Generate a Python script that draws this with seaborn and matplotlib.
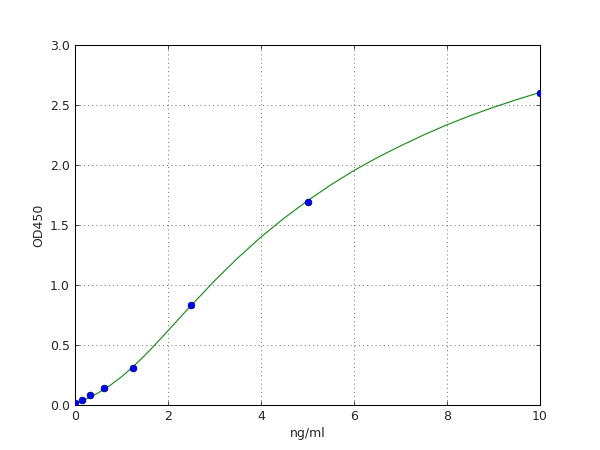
"""ELISA standard curve: OD450 against concentration (ng/ml)."""

import matplotlib

matplotlib.use("Agg")

import matplotlib.pyplot as plt
import pandas as pd
import seaborn as sns

# standards
conc = [0.0, 0.156, 0.3125, 0.625, 1.25, 2.5, 5.0, 10.0]
od450 = [0.02, 0.042, 0.086, 0.145, 0.305, 0.83, 1.69, 2.596]

# fitted curve
curve_x = [0.0, 0.25, 0.5, 0.75, 1.0, 1.25, 1.5, 1.75, 2.0, 2.25, 2.5, 3.0,
           3.5, 4.0, 4.5, 5.0, 5.5, 6.0, 6.5, 7.0, 7.5, 8.0, 8.5, 9.0, 9.5, 10.0]
curve_y = [0.015, 0.052, 0.101, 0.162, 0.235, 0.319, 0.413, 0.514, 0.619, 0.725, 0.83,
           1.035, 1.225, 1.40, 1.558, 1.702, 1.834, 1.954, 2.062, 2.159, 2.251, 2.335,
           2.411, 2.481, 2.545, 2.605]

x_ticks = [0, 2, 4, 6, 8, 10]
y_ticks = [0.0, 0.5, 1.0, 1.5, 2.0, 2.5, 3.0]

sns.set_style(
    "white",
    {
        "axes.edgecolor": "black",
        "xtick.direction": "in",
        "ytick.direction": "in",
        "xtick.top": True,
        "ytick.right": True,
        "xtick.bottom": True,
        "ytick.left": True,
    },
)
plt.rcParams["font.family"] = ["DejaVu Sans"]
plt.rcParams["font.size"] = 12

points = pd.DataFrame({"conc": conc, "od": od450})
fit = pd.DataFrame({"conc": curve_x, "od": curve_y})

fig = plt.figure(figsize=(8, 6), dpi=75)
ax = fig.add_axes([0.125, 0.1, 0.775, 0.8])

sns.lineplot(data=fit, x="conc", y="od", ax=ax, color="#1f8f1f", linewidth=1.15,
             estimator=None, sort=False)
sns.scatterplot(data=points, x="conc", y="od", ax=ax, color=(0, 0, 1), s=42,
                edgecolor=(0, 0, 0.45), linewidth=0.7, zorder=3, clip_on=True)

ax.set_xlim(0, 10)
ax.set_ylim(0, 3.0)
ax.set_xticks(x_ticks)
ax.set_yticks(y_ticks)
ax.set_xticklabels([str(t) for t in x_ticks])
ax.set_yticklabels([f"{t:.1f}" for t in y_ticks])
ax.tick_params(length=4, width=0.8, labelsize=12, pad=5)
ax.grid(True, color="black", linestyle=(0, (2, 6)), linewidth=0.5)
for spine in ax.spines.values():
    spine.set_linewidth(1.0)

ax.set_xlabel("ng/ml", fontsize=12)
ax.set_ylabel("OD450", fontsize=12)

fig.savefig("out.png", dpi=75)
